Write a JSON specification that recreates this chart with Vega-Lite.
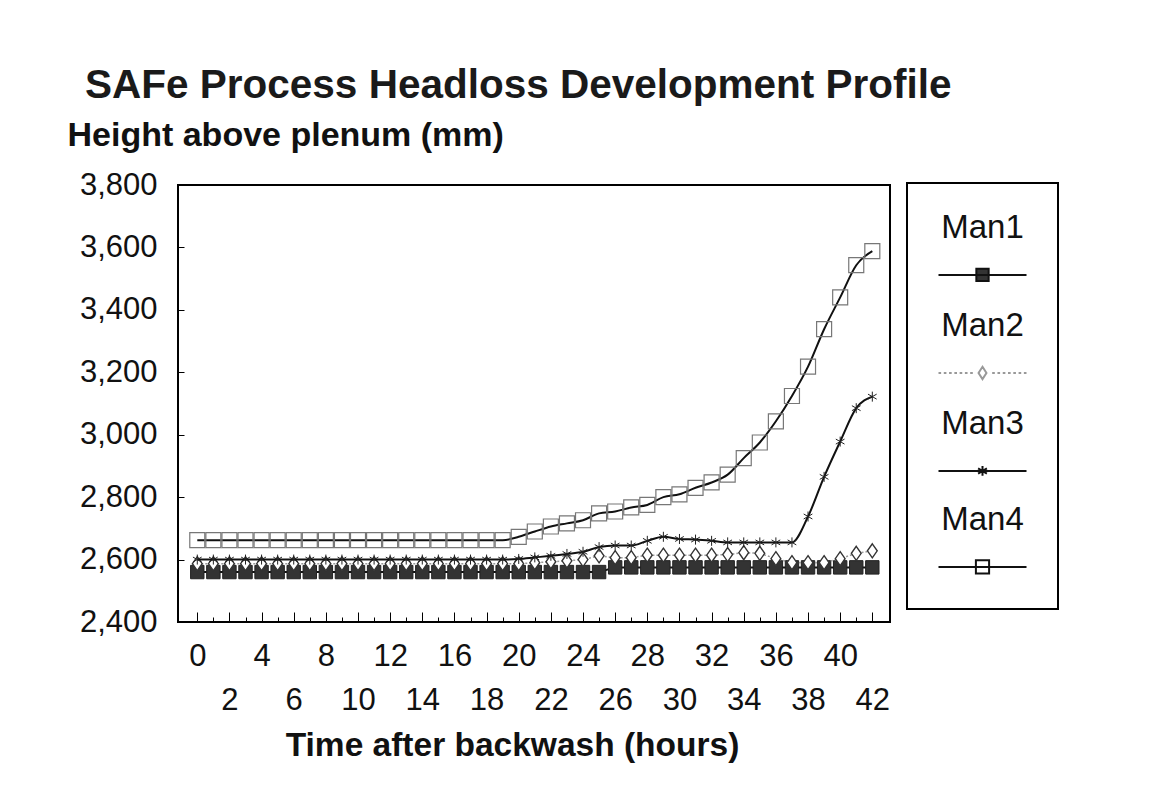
{
"$schema": "https://vega.github.io/schema/vega-lite/v6.json",
"width": 712, "height": 437,
"autosize": {"type": "none"},
"padding": {"left": 178, "top": 185, "right": 271, "bottom": 190},
"background": "white",
"config": {"font": "Liberation Sans", "view": {"stroke": "#000", "strokeWidth": 2}, "legend": {"strokeWidth": 2}, "axis": {"labelOverlap": false}},
"title": {"text": "SAFe Process Headloss Development Profile", "anchor": "start", "frame": "group", "dx": -93, "fontSize": 40.5, "fontWeight": "bold", "color": "#1a1a1a", "offset": 12},
"datasets": {
"d": [
{"h":0,"s":"Man1","v":2560},{"h":1,"s":"Man1","v":2560},{"h":2,"s":"Man1","v":2560},{"h":3,"s":"Man1","v":2560},{"h":4,"s":"Man1","v":2560},{"h":5,"s":"Man1","v":2560},{"h":6,"s":"Man1","v":2560},{"h":7,"s":"Man1","v":2560},{"h":8,"s":"Man1","v":2560},{"h":9,"s":"Man1","v":2560},{"h":10,"s":"Man1","v":2560},{"h":11,"s":"Man1","v":2560},{"h":12,"s":"Man1","v":2560},{"h":13,"s":"Man1","v":2560},{"h":14,"s":"Man1","v":2560},{"h":15,"s":"Man1","v":2560},{"h":16,"s":"Man1","v":2560},{"h":17,"s":"Man1","v":2560},{"h":18,"s":"Man1","v":2560},{"h":19,"s":"Man1","v":2560},{"h":20,"s":"Man1","v":2560},{"h":21,"s":"Man1","v":2560},{"h":22,"s":"Man1","v":2560},{"h":23,"s":"Man1","v":2560},{"h":24,"s":"Man1","v":2560},{"h":25,"s":"Man1","v":2560},{"h":26,"s":"Man1","v":2575},{"h":27,"s":"Man1","v":2575},{"h":28,"s":"Man1","v":2575},{"h":29,"s":"Man1","v":2575},{"h":30,"s":"Man1","v":2575},{"h":31,"s":"Man1","v":2575},{"h":32,"s":"Man1","v":2575},{"h":33,"s":"Man1","v":2575},{"h":34,"s":"Man1","v":2575},{"h":35,"s":"Man1","v":2575},{"h":36,"s":"Man1","v":2575},{"h":37,"s":"Man1","v":2575},{"h":38,"s":"Man1","v":2575},{"h":39,"s":"Man1","v":2575},{"h":40,"s":"Man1","v":2575},{"h":41,"s":"Man1","v":2575},{"h":42,"s":"Man1","v":2575},
{"h":0,"s":"Man2","v":2587},{"h":1,"s":"Man2","v":2587},{"h":2,"s":"Man2","v":2587},{"h":3,"s":"Man2","v":2587},{"h":4,"s":"Man2","v":2587},{"h":5,"s":"Man2","v":2587},{"h":6,"s":"Man2","v":2587},{"h":7,"s":"Man2","v":2587},{"h":8,"s":"Man2","v":2587},{"h":9,"s":"Man2","v":2587},{"h":10,"s":"Man2","v":2587},{"h":11,"s":"Man2","v":2587},{"h":12,"s":"Man2","v":2587},{"h":13,"s":"Man2","v":2587},{"h":14,"s":"Man2","v":2587},{"h":15,"s":"Man2","v":2587},{"h":16,"s":"Man2","v":2587},{"h":17,"s":"Man2","v":2587},{"h":18,"s":"Man2","v":2587},{"h":19,"s":"Man2","v":2587},{"h":20,"s":"Man2","v":2587},{"h":21,"s":"Man2","v":2590},{"h":22,"s":"Man2","v":2593},{"h":23,"s":"Man2","v":2596},{"h":24,"s":"Man2","v":2600},{"h":25,"s":"Man2","v":2612},{"h":26,"s":"Man2","v":2606},{"h":27,"s":"Man2","v":2606},{"h":28,"s":"Man2","v":2614},{"h":29,"s":"Man2","v":2614},{"h":30,"s":"Man2","v":2614},{"h":31,"s":"Man2","v":2614},{"h":32,"s":"Man2","v":2614},{"h":33,"s":"Man2","v":2616},{"h":34,"s":"Man2","v":2622},{"h":35,"s":"Man2","v":2620},{"h":36,"s":"Man2","v":2603},{"h":37,"s":"Man2","v":2590},{"h":38,"s":"Man2","v":2590},{"h":39,"s":"Man2","v":2590},{"h":40,"s":"Man2","v":2603},{"h":41,"s":"Man2","v":2620},{"h":42,"s":"Man2","v":2628},
{"h":0,"s":"Man3","v":2600},{"h":1,"s":"Man3","v":2600},{"h":2,"s":"Man3","v":2600},{"h":3,"s":"Man3","v":2600},{"h":4,"s":"Man3","v":2600},{"h":5,"s":"Man3","v":2600},{"h":6,"s":"Man3","v":2600},{"h":7,"s":"Man3","v":2600},{"h":8,"s":"Man3","v":2600},{"h":9,"s":"Man3","v":2600},{"h":10,"s":"Man3","v":2600},{"h":11,"s":"Man3","v":2600},{"h":12,"s":"Man3","v":2600},{"h":13,"s":"Man3","v":2600},{"h":14,"s":"Man3","v":2600},{"h":15,"s":"Man3","v":2600},{"h":16,"s":"Man3","v":2600},{"h":17,"s":"Man3","v":2600},{"h":18,"s":"Man3","v":2600},{"h":19,"s":"Man3","v":2600},{"h":20,"s":"Man3","v":2602},{"h":21,"s":"Man3","v":2607},{"h":22,"s":"Man3","v":2612},{"h":23,"s":"Man3","v":2618},{"h":24,"s":"Man3","v":2625},{"h":25,"s":"Man3","v":2640},{"h":26,"s":"Man3","v":2645},{"h":27,"s":"Man3","v":2645},{"h":28,"s":"Man3","v":2660},{"h":29,"s":"Man3","v":2673},{"h":30,"s":"Man3","v":2666},{"h":31,"s":"Man3","v":2664},{"h":32,"s":"Man3","v":2660},{"h":33,"s":"Man3","v":2655},{"h":34,"s":"Man3","v":2655},{"h":35,"s":"Man3","v":2655},{"h":36,"s":"Man3","v":2655},{"h":37,"s":"Man3","v":2655},{"h":38,"s":"Man3","v":2738},{"h":39,"s":"Man3","v":2865},{"h":40,"s":"Man3","v":2978},{"h":41,"s":"Man3","v":3085},{"h":42,"s":"Man3","v":3122},
{"h":0,"s":"Man4","v":2662},{"h":1,"s":"Man4","v":2662},{"h":2,"s":"Man4","v":2662},{"h":3,"s":"Man4","v":2662},{"h":4,"s":"Man4","v":2662},{"h":5,"s":"Man4","v":2662},{"h":6,"s":"Man4","v":2662},{"h":7,"s":"Man4","v":2662},{"h":8,"s":"Man4","v":2662},{"h":9,"s":"Man4","v":2662},{"h":10,"s":"Man4","v":2662},{"h":11,"s":"Man4","v":2662},{"h":12,"s":"Man4","v":2662},{"h":13,"s":"Man4","v":2662},{"h":14,"s":"Man4","v":2662},{"h":15,"s":"Man4","v":2662},{"h":16,"s":"Man4","v":2662},{"h":17,"s":"Man4","v":2662},{"h":18,"s":"Man4","v":2662},{"h":19,"s":"Man4","v":2662},{"h":20,"s":"Man4","v":2673},{"h":21,"s":"Man4","v":2690},{"h":22,"s":"Man4","v":2706},{"h":23,"s":"Man4","v":2716},{"h":24,"s":"Man4","v":2726},{"h":25,"s":"Man4","v":2748},{"h":26,"s":"Man4","v":2754},{"h":27,"s":"Man4","v":2767},{"h":28,"s":"Man4","v":2775},{"h":29,"s":"Man4","v":2800},{"h":30,"s":"Man4","v":2809},{"h":31,"s":"Man4","v":2830},{"h":32,"s":"Man4","v":2847},{"h":33,"s":"Man4","v":2872},{"h":34,"s":"Man4","v":2925},{"h":35,"s":"Man4","v":2975},{"h":36,"s":"Man4","v":3043},{"h":37,"s":"Man4","v":3124},{"h":38,"s":"Man4","v":3218},{"h":39,"s":"Man4","v":3338},{"h":40,"s":"Man4","v":3440},{"h":41,"s":"Man4","v":3543},{"h":42,"s":"Man4","v":3588}
]},
"data": {"name": "d"},
"encoding": {
  "x": {"field": "h", "type": "quantitative", "scale": {"domain": [-1.2, 43.1], "nice": false, "zero": false}, "axis": null},
  "y": {"field": "v", "type": "quantitative", "scale": {"domain": [2400, 3800], "nice": false, "zero": false}}
},
"resolve": {"axis": {"x": "independent"}},
"layer": [
{"transform": [{"filter": "datum.s == 'Man1'"}], "mark": {"type": "line", "color": "#111", "strokeWidth": 2},
 "encoding": {
  "x": {"field": "h", "type": "quantitative", "scale": {"domain": [-1.2, 43.1], "nice": false, "zero": false}, "axis": {"orient": "bottom", "title": "Time after backwash (hours)", "values": [0,1,2,3,4,5,6,7,8,9,10,11,12,13,14,15,16,17,18,19,20,21,22,23,24,25,26,27,28,29,30,31,32,33,34,35,36,37,38,39,40,41,42], "labelExpr": "datum.value % 4 == 0 ? datum.label : ''", "domain": false, "grid": false, "tickColor": "#000", "tickWidth": 1, "tickSize": {"condition": {"test": "datum.value % 2 == 0", "value": -10}, "value": -5}, "labelPadding": 29, "labelFontSize": 31, "labelColor": "#111", "labelOverlap": false, "labelFlush": false, "labelBound": false, "titleFontSize": 33.5, "titleFontWeight": "bold", "titleColor": "#111", "titleX": 334, "titleY": 123, "titleAlign": "center", "titleBaseline": "middle"}},
  "y": {"field": "v", "type": "quantitative", "axis": {"title": "Height above plenum (mm)", "values": [2400,2500,2600,2700,2800,2900,3000,3100,3200,3300,3400,3500,3600,3700,3800], "labelExpr": "datum.value % 200 == 0 ? format(datum.value, ',') : ''", "domain": false, "grid": false, "tickColor": "#000", "tickWidth": 1, "tickSize": -6, "labelPadding": 27, "labelFontSize": 31, "labelColor": "#111", "labelOverlap": false, "labelFlush": false, "labelBound": false, "titleAngle": 0, "titleX": -111, "titleY": -40, "titleAlign": "left", "titleBaseline": "alphabetic", "titleFontSize": 34, "titleFontWeight": "bold", "titleColor": "#111"}},
  "detail": {"field": "s"}
 }},
{"transform": [{"filter": "datum.s == 'Man1'"}], "mark": {"type": "point", "shape": "square", "filled": true, "size": 180, "fill": "#333", "stroke": "#222", "strokeWidth": 1, "opacity": 1}},
{"transform": [{"filter": "datum.s == 'Man2'"}], "mark": {"type": "line", "color": "#999", "strokeWidth": 1.5, "strokeDash": [2,2]},
 "encoding": {
  "x": {"field": "h", "type": "quantitative", "scale": {"domain": [-1.2, 43.1], "nice": false, "zero": false}, "axis": {"orient": "bottom", "title": null, "values": [2,6,10,14,18,22,26,30,34,38,42], "ticks": false, "domain": false, "grid": false, "labelPadding": 63, "labelFontSize": 31, "labelColor": "#111", "labelOverlap": false, "labelFlush": false, "labelBound": false}}
 }},
{"transform": [{"filter": "datum.s == 'Man2'"}], "mark": {"type": "point", "shape": "M0,-1L0.7,0L0,1L-0.7,0Z", "size": 196, "fill": "#fff", "stroke": "#333", "strokeWidth": 1.4, "opacity": 1}},
{"transform": [{"filter": "datum.s == 'Man3'"}], "mark": {"type": "line", "color": "#111", "strokeWidth": 2, "interpolate": "monotone"}},
{"transform": [{"filter": "datum.s == 'Man3'"}], "mark": {"type": "point", "shape": "M0,-1V1M-0.87,-0.5L0.87,0.5M-0.87,0.5L0.87,-0.5", "size": 100, "stroke": "#222", "strokeWidth": 1, "opacity": 1}},
{"transform": [{"filter": "datum.s == 'Man4'"}], "mark": {"type": "line", "color": "#111", "strokeWidth": 2, "interpolate": "monotone"}},
{"transform": [{"filter": "datum.s == 'Man4'"}], "mark": {"type": "point", "shape": "square", "size": 225, "fill": "transparent", "stroke": "#777", "strokeWidth": 1.2, "opacity": 1}},
{"transform": [{"filter": "datum.h < -1000"}], "mark": {"type": "point", "size": 7744, "strokeWidth": 2, "opacity": 1, "filled": true},
 "encoding": {
  "shape": {"field": "s", "type": "nominal", "scale": {"domain": ["Man1","Man2","Man3","Man4"], "range": ["M1.23,0.68M-1,0.68H1M-0.14,0.54H0.14V0.82H-0.14Z", "M1.23,0.68M-1,0.68H-0.94M-0.88,0.68H-0.82M-0.76,0.68H-0.7M-0.64,0.68H-0.58M-0.52,0.68H-0.46M-0.4,0.68H-0.34M-0.28,0.68H-0.22M0.22,0.68H0.28M0.34,0.68H0.4M0.46,0.68H0.52M0.58,0.68H0.64M0.7,0.68H0.76M0.82,0.68H0.88M0.94,0.68H1M0,0.54L0.09,0.68L0,0.82L-0.09,0.68Z", "M1.23,0.68M-1,0.68H1M0,0.57V0.79M-0.1,0.62L0.1,0.74M-0.1,0.74L0.1,0.62", "M1.23,1.15M-1,0.68H1M-0.15,0.53H0.15V0.83H-0.15Z"]},
   "legend": {"title": null, "orient": "none", "legendX": 729, "legendY": -2, "direction": "vertical", "padding": 17, "strokeColor": "#000", "fillColor": "#fff", "symbolSize": 7744, "symbolStrokeWidth": 2, "symbolOffset": 13.5, "labelFontSize": 33, "labelColor": "#111", "labelAlign": "center", "labelBaseline": "bottom", "labelOffset": -45, "labelLimit": 300, "rowPadding": 12}},
  "fill": {"field": "s", "type": "nominal", "scale": {"domain": ["Man1","Man2","Man3","Man4"], "range": ["#333", "#fff", "transparent", "transparent"]}},
  "stroke": {"field": "s", "type": "nominal", "scale": {"domain": ["Man1","Man2","Man3","Man4"], "range": ["#111", "#999", "#111", "#111"]}}
 }}
]
}
